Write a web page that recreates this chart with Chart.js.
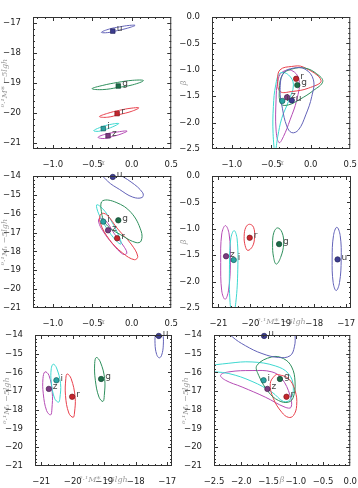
<!DOCTYPE html>
<html>
<head>
<meta charset="utf-8">
<script src="https://cdn.jsdelivr.net/npm/chart.js@4.4.1/dist/chart.umd.min.js"></script>
<style>
  html, body { margin: 0; padding: 0; background: #fff; overflow: hidden; }
  body { width: 358px; height: 488px; position: relative; }
  canvas { position: absolute; }
</style>
</head>
<body>
<canvas id="c1"></canvas>
<canvas id="c2"></canvas>
<canvas id="c3"></canvas>
<canvas id="c4"></canvas>
<canvas id="c5"></canvas>
<canvas id="c6"></canvas>
<script>
// best-fit parameters per band
const bands = ['u', 'g', 'r', 'i', 'z'];
const alpha = [-0.24, -0.17, -0.185, -0.36, -0.30];
const mStar = [-17.27, -19.10, -20.02, -20.52, -20.76];
const beta = [-1.58, -1.29, -1.17, -1.59, -1.52];
const mT = [-14.05, -16.35, -17.30, -16.42, -16.88];

// contour outlines, band order u g r i z
const contAlphaMstar = [
  [[-0.384, -17.31], [-0.283, -17.20], [-0.156, -17.13], [-0.030, -17.08], [0.042, -17.08], [-0.051, -17.17], [-0.177, -17.25], [-0.304, -17.32]],
  [[-0.502, -19.19], [-0.367, -19.08], [-0.177, -18.98], [0.013, -18.91], [0.148, -18.92], [0.013, -19.06], [-0.177, -19.15], [-0.367, -19.22]],
  [[-0.409, -20.12], [-0.304, -20.01], [-0.156, -19.91], [-0.008, -19.84], [0.089, -19.83], [-0.008, -19.95], [-0.156, -20.05], [-0.304, -20.14]],
  [[-0.481, -20.59], [-0.409, -20.49], [-0.304, -20.40], [-0.165, -20.35], [-0.241, -20.46], [-0.346, -20.56], [-0.418, -20.61]],
  [[-0.426, -20.81], [-0.325, -20.70], [-0.198, -20.64], [-0.059, -20.60], [-0.135, -20.70], [-0.241, -20.78], [-0.346, -20.85]]
];
const contAlphaBeta = [
  [[-0.346, -1.063], [-0.219, -0.968], [-0.072, -0.987], [0.034, -1.190], [0.013, -1.506], [-0.063, -1.854], [-0.156, -2.139], [-0.241, -2.190], [-0.304, -2.063], [-0.359, -1.728], [-0.388, -1.380]],
  [[-0.359, -1.095], [-0.241, -0.987], [-0.072, -0.968], [0.076, -1.076], [0.152, -1.222], [0.034, -1.392], [-0.135, -1.557], [-0.283, -1.665], [-0.376, -1.646], [-0.397, -1.380]],
  [[-0.388, -1.000], [-0.241, -0.937], [-0.093, -0.949], [0.131, -1.203], [-0.030, -1.348], [-0.241, -1.411], [-0.388, -1.411], [-0.418, -1.190]],
  [[-0.388, -1.063], [-0.283, -1.095], [-0.219, -1.285], [-0.283, -1.601], [-0.367, -1.918], [-0.418, -2.266], [-0.451, -2.551], [-0.477, -2.203], [-0.473, -1.696], [-0.443, -1.285]],
  [[-0.367, -1.051], [-0.241, -1.013], [-0.148, -1.190], [-0.177, -1.570], [-0.262, -1.949], [-0.346, -2.266], [-0.401, -2.380], [-0.439, -2.139], [-0.439, -1.570], [-0.418, -1.222]]
];
const contAlphaMt = [
  [[-0.409, -13.70], [-0.198, -13.88], [-0.008, -14.32], [0.139, -14.89], [0.131, -15.14], [0.013, -15.12], [-0.156, -14.71], [-0.304, -14.28]],
  [[-0.367, -15.31], [-0.198, -15.40], [-0.008, -15.94], [0.118, -16.91], [0.118, -17.45], [0.055, -17.53], [-0.114, -17.18], [-0.325, -16.56], [-0.388, -15.76]],
  [[-0.388, -16.01], [-0.316, -16.06], [-0.177, -16.81], [-0.008, -17.61], [0.076, -18.26], [0.034, -18.44], [-0.114, -18.09], [-0.283, -17.37], [-0.401, -16.45]],
  [[-0.443, -15.53], [-0.367, -15.74], [-0.262, -16.36], [-0.156, -17.25], [-0.135, -17.61], [-0.198, -17.43], [-0.325, -16.72], [-0.418, -16.01]],
  [[-0.409, -16.24], [-0.333, -16.36], [-0.219, -17.07], [-0.093, -17.78], [-0.063, -18.10], [-0.114, -18.14], [-0.241, -17.61], [-0.367, -16.90], [-0.418, -16.45]]
];
const contMstarBeta = [
  [[-17.293, -0.971], [-17.188, -1.129], [-17.157, -1.574], [-17.209, -2.018], [-17.314, -2.170], [-17.408, -2.018], [-17.440, -1.574], [-17.398, -1.129]],
  [[-19.147, -0.983], [-19.010, -1.066], [-18.958, -1.288], [-19.052, -1.542], [-19.188, -1.669], [-19.272, -1.542], [-19.304, -1.288], [-19.262, -1.066]],
  [[-20.026, -0.914], [-19.900, -0.971], [-19.869, -1.161], [-19.932, -1.332], [-20.079, -1.409], [-20.162, -1.320], [-20.194, -1.142], [-20.141, -0.971]],
  [[-20.508, -1.034], [-20.414, -1.193], [-20.393, -1.764], [-20.455, -2.398], [-20.550, -2.652], [-20.634, -2.398], [-20.654, -1.764], [-20.613, -1.193]],
  [[-20.780, -0.939], [-20.665, -1.098], [-20.623, -1.637], [-20.686, -2.176], [-20.790, -2.335], [-20.895, -2.176], [-20.927, -1.637], [-20.895, -1.098]]
];
const contMstarMt = [
  [[-17.253, -13.55], [-17.147, -13.91], [-17.126, -14.54], [-17.179, -15.08], [-17.253, -15.22], [-17.337, -15.04], [-17.389, -14.45], [-17.358, -13.82]],
  [[-19.253, -15.20], [-19.126, -15.44], [-18.989, -16.33], [-19.000, -17.23], [-19.042, -17.55], [-19.168, -17.32], [-19.284, -16.42], [-19.305, -15.53]],
  [[-20.179, -16.08], [-20.053, -16.33], [-19.926, -17.32], [-19.947, -18.17], [-19.989, -18.40], [-20.126, -18.17], [-20.232, -17.23], [-20.221, -16.33]],
  [[-20.621, -15.56], [-20.516, -15.76], [-20.389, -16.60], [-20.411, -17.38], [-20.453, -17.59], [-20.579, -17.38], [-20.684, -16.51], [-20.684, -15.80]],
  [[-20.884, -15.97], [-20.758, -16.15], [-20.653, -17.05], [-20.663, -17.95], [-20.705, -18.27], [-20.832, -18.04], [-20.937, -17.14], [-20.947, -16.33]]
];
const contBetaMt = [
  [[-2.288, -13.64], [-2.166, -14.09], [-1.924, -14.57], [-1.620, -14.99], [-1.317, -15.20], [-1.104, -15.11], [-1.025, -14.63], [-1.013, -14.00], [-1.044, -13.46], [-1.620, -13.28]],
  [[-1.438, -15.17], [-1.711, -15.62], [-1.681, -16.15], [-1.499, -17.05], [-1.317, -17.50], [-1.135, -17.59], [-1.044, -17.32], [-1.013, -16.51], [-1.074, -15.71], [-1.226, -15.26]],
  [[-1.377, -16.15], [-1.468, -16.60], [-1.408, -17.41], [-1.256, -18.13], [-1.135, -18.40], [-1.044, -18.31], [-0.983, -17.77], [-1.013, -16.96], [-1.135, -16.33], [-1.317, -16.12]],
  [[-2.652, -15.71], [-2.227, -15.51], [-1.802, -15.44], [-1.377, -15.65], [-1.135, -16.06], [-1.044, -16.78], [-1.104, -17.45], [-1.226, -17.55], [-1.438, -17.05], [-1.802, -16.48], [-2.227, -16.06], [-2.652, -15.89]],
  [[-2.379, -16.15], [-2.227, -15.97], [-1.802, -15.90], [-1.438, -15.97], [-1.256, -16.33], [-1.104, -17.23], [-1.086, -17.86], [-1.195, -17.86], [-1.559, -17.32], [-1.984, -16.78], [-2.288, -16.42]]
];

// tick labels
const ticksAlpha = [-1.0, -0.5, 0.0, 0.5];
const ticksBeta = [-2.5, -2.0, -1.5, -1.0, -0.5, 0.0];
const ticksMstar = [-21, -20, -19, -18, -17];
const ticksMt = [-21, -20, -19, -18, -17, -16, -15, -14];

const pointFill = ['#3d3d8f', '#1d6c48', '#c4262e', '#2ba3a2', '#7b3c80'];
const pointEdge = ['#25255e', '#104530', '#7d1418', '#17605f', '#4a2050'];
const lineColors = ['#6262b8', '#2e8f5c', '#e8404c', '#3ed8d0', '#b54cb5'];

const labelMstar = '\u2070\u00b7\u00b9M* \u22125lgh';
const labelMt = '\u2070\u00b7\u00b9M\u209c \u22125lgh';

// chart-area boxes in page pixels
const panels = [
  { id: 'c1', L: 33, T: 17, R: 172, B: 149, xs: alpha, ys: mStar, cont: contAlphaMstar, xr: [-1.25, 0.5], yr: [-21.2, -16.8], xt: ticksAlpha, yt: ticksMstar, xm: 0.1, ym: 0.2, xd: 1, yd: 0, xTitle: '\u03b1', yTitle: labelMstar, marker: 'rect' },
  { id: 'c2', L: 212, T: 17, R: 351, B: 149, xs: alpha, ys: beta, cont: contAlphaBeta, xr: [-1.25, 0.5], yr: [-2.5, 0], xt: ticksAlpha, yt: ticksBeta, xm: 0.1, ym: 0.1, xd: 1, yd: 1, xTitle: '\u03b1', yTitle: '\u03b2', marker: 'circle' },
  { id: 'c3', L: 33, T: 176, R: 172, B: 308, xs: alpha, ys: mT, cont: contAlphaMt, xr: [-1.25, 0.5], yr: [-21, -14], xt: ticksAlpha, yt: ticksMt, xm: 0.1, ym: 0.2, xd: 1, yd: 0, xTitle: '\u03b1', yTitle: labelMt, marker: 'circle' },
  { id: 'c4', L: 212, T: 176, R: 351, B: 308, xs: mStar, ys: beta, cont: contMstarBeta, xr: [-21.2, -16.85], yr: [-2.5, 0], xt: ticksMstar, yt: ticksBeta, xm: 0.2, ym: 0.1, xd: 0, yd: 1, xTitle: labelMstar, yTitle: '\u03b2', marker: 'circle' },
  { id: 'c5', L: 35, T: 335, R: 172, B: 466, xs: mStar, ys: mT, cont: contMstarMt, xr: [-21.2, -16.85], yr: [-21, -14], xt: ticksMstar, yt: ticksMt, xm: 0.2, ym: 0.2, xd: 0, yd: 0, xTitle: labelMstar, yTitle: labelMt, marker: 'circle' },
  { id: 'c6', L: 214, T: 335, R: 351, B: 466, xs: beta, ys: mT, cont: contBetaMt, xr: [-2.5, 0], yr: [-21, -14], xt: ticksBeta, yt: ticksMt, xm: 0.1, ym: 0.2, xd: 1, yd: 0, xTitle: '\u03b2', yTitle: labelMt, marker: 'circle' }
];

function fmt(v, d) {
  const s = Math.abs(v).toFixed(d);
  return (v < -1e-9 ? '\u2212' : '') + s;
}

// make contour lines close smoothly, like the radar controller does
const closeLoops = {
  id: 'closeLoops',
  afterDatasetsUpdate(chart) {
    chart.data.datasets.forEach((ds, i) => {
      if (i === 0) return;
      const line = chart.getDatasetMeta(i).dataset;
      if (line) { line._loop = true; line._fullLoop = true; }
    });
  }
};

// box and inward major/minor ticks on all four sides
function makeFrame(p) {
  const minors = (lo, hi, step, majors) => {
    const out = [];
    for (let k = Math.ceil(lo / step - 1e-6); k * step <= hi + 1e-9; k++) {
      const v = +(k * step).toFixed(4);
      if (!majors.some(m => Math.abs(m - v) < 1e-6)) out.push(v);
    }
    return out;
  };
  return {
    id: 'frame',
    afterDraw(chart) {
      const { ctx, chartArea: a, scales } = chart;
      ctx.save();
      ctx.strokeStyle = '#333';
      ctx.lineWidth = 1;
      ctx.beginPath();
      const xTick = (v, len) => {
        const x = Math.round(scales.x.getPixelForValue(v)) + 0.5;
        if (x < a.left || x > a.right) return;
        ctx.moveTo(x, a.bottom); ctx.lineTo(x, a.bottom - len);
        ctx.moveTo(x, a.top); ctx.lineTo(x, a.top + len);
      };
      const yTick = (v, len) => {
        const y = Math.round(scales.y.getPixelForValue(v)) + 0.5;
        if (y < a.top || y > a.bottom) return;
        ctx.moveTo(a.left, y); ctx.lineTo(a.left + len, y);
        ctx.moveTo(a.right, y); ctx.lineTo(a.right - len, y);
      };
      p.xt.forEach(v => xTick(v, 4));
      p.yt.forEach(v => yTick(v, 4));
      minors(p.xr[0], p.xr[1], p.xm, p.xt).forEach(v => xTick(v, 2));
      minors(p.yr[0], p.yr[1], p.ym, p.yt).forEach(v => yTick(v, 2));
      ctx.stroke();
      ctx.strokeRect(a.left + 0.5, a.top + 0.5, a.right - a.left - 1, a.bottom - a.top - 1);
      ctx.restore();
    }
  };
}

// band letters next to the best-fit markers
const bandLabels = {
  id: 'bandLabels',
  afterDatasetsDraw(chart) {
    const { ctx } = chart;
    const meta = chart.getDatasetMeta(0);
    ctx.save();
    ctx.font = '9px "DejaVu Sans"';
    ctx.fillStyle = '#444';
    ctx.textBaseline = 'middle';
    meta.data.forEach((pt, i) => ctx.fillText(bands[i], pt.x + 4, pt.y - 2));
    ctx.restore();
  }
};

const tickFont = { family: 'DejaVu Sans', size: 8.5 };
const titleFont = { family: 'DejaVu Serif', style: 'italic', size: 8 };

panels.forEach(p => {
  const canvas = document.getElementById(p.id);
  const W = (p.R - p.L) + 33 + 9;
  const H = (p.B - p.T) + 12 + 20;
  canvas.width = W;
  canvas.height = H;
  canvas.style.left = (p.L - 33) + 'px';
  canvas.style.top = (p.T - 12) + 'px';

  const datasets = [{
    data: p.xs.map((v, i) => ({ x: v, y: p.ys[i] })),
    pointStyle: p.marker,
    pointRadius: p.marker === 'rect' ? 3.2 : 2.7,
    backgroundColor: pointFill,
    borderColor: pointEdge,
    borderWidth: 0.7,
    showLine: false,
    clip: false
  }];
  p.cont.forEach((c, i) => {
    datasets.push({
      data: c.map(q => ({ x: q[0], y: q[1] })),
      showLine: true,
      pointRadius: 0,
      borderColor: lineColors[i],
      backgroundColor: lineColors[i],
      borderWidth: 1,
      tension: 0.4,
      capBezierPoints: false,
      fill: false
    });
  });

  new Chart(canvas, {
    type: 'scatter',
    data: { datasets },
    options: {
      responsive: false,
      animation: false,
      events: [],
      layout: { padding: { left: 0, top: 12, right: 9, bottom: 0 } },
      plugins: { legend: { display: false }, tooltip: { enabled: false } },
      scales: {
        x: {
          type: 'linear',
          min: p.xr[0],
          max: p.xr[1],
          afterBuildTicks: s => { s.ticks = p.xt.map(v => ({ value: v })); },
          afterFit: s => { s.height = 20; },
          grid: { display: false },
          border: { display: false },
          ticks: { padding: 3, font: tickFont, color: '#222', autoSkip: false, maxRotation: 0, callback: v => fmt(v, p.xd) },
          title: { display: true, text: p.xTitle, color: '#9a9a9a', font: titleFont, padding: { top: 0, bottom: 1 } }
        },
        y: {
          type: 'linear',
          min: p.yr[0],
          max: p.yr[1],
          afterBuildTicks: s => { s.ticks = p.yt.map(v => ({ value: v })); },
          afterFit: s => { s.width = 33; },
          grid: { display: false },
          border: { display: false },
          ticks: { padding: 4, font: tickFont, color: '#222', autoSkip: false, callback: v => fmt(v, p.yd) },
          title: { display: true, text: p.yTitle, color: '#9a9a9a', font: titleFont, padding: { top: 0, bottom: 0 } }
        }
      }
    },
    plugins: [closeLoops, makeFrame(p), bandLabels]
  });
});
</script>
</body>
</html>
